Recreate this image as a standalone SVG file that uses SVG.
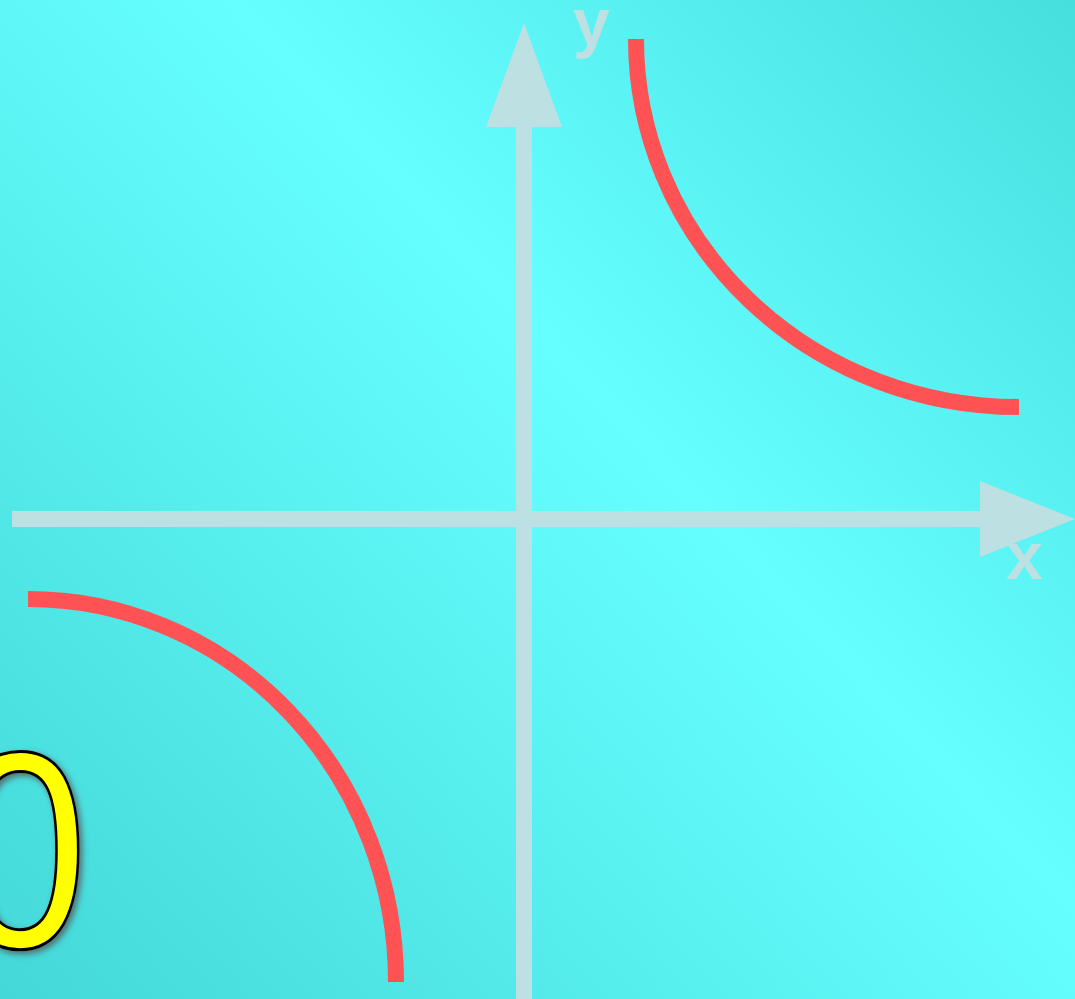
<svg xmlns="http://www.w3.org/2000/svg" width="1075" height="999" viewBox="0 0 1075 999">
  <defs>
    <linearGradient id="bg" gradientUnits="userSpaceOnUse" x1="1075" y1="0" x2="0" y2="999">
      <stop offset="0" stop-color="#47DEDE"/>
      <stop offset="0.42" stop-color="#66FFFF"/>
      <stop offset="1" stop-color="#44D8D8"/>
    </linearGradient>
    <filter id="shadow" x="-20%" y="-20%" width="150%" height="150%">
      <feDropShadow dx="3" dy="3" stdDeviation="3" flood-color="#555555" flood-opacity="0.8"/>
    </filter>
    <style>
      .axis { stroke: #BDE0E2; stroke-width: 16; fill: none; }
      .head { fill: #BDE0E2; }
      .lbl { fill: #BDE0E2; font-family: "Liberation Sans", Arial, sans-serif; font-weight: bold; font-size: 66px; }
      .curve { stroke: #FF5254; stroke-width: 16; fill: none; stroke-linecap: butt; }
      .big { fill: #FFFF00; stroke: #000000; stroke-width: 3; font-family: "Liberation Sans", Arial, sans-serif; font-size: 280px; }
    </style>
  </defs>
  <rect id="background" x="0" y="0" width="1075" height="999" fill="url(#bg)"/>
  <g id="connectors">
    <line id="x-axis" class="axis" x1="12" y1="519" x2="982" y2="519"/>
    <polygon id="x-head" class="head" points="980,481 1075,519 980,557"/>
    <line id="y-axis" class="axis" x1="524" y1="999" x2="524" y2="125"/>
    <polygon id="y-head" class="head" points="486,127 524,23 562,127"/>
  </g>
  <g id="label-x"><text class="lbl" x="1006" y="579">x</text></g>
  <g id="label-y"><text class="lbl" x="573" y="45">y</text></g>
  <g id="branch-upper"><path class="curve" d="M636,39 A383,368 0 0 0 1019,407"/></g>
  <g id="branch-lower"><path class="curve" d="M28,599 A368,383 0 0 1 396,982"/></g>
  <g id="zero-label" filter="url(#shadow)">
    <text class="big" text-anchor="middle" transform="translate(20,947) scale(0.87,1)">0</text>
  </g>
</svg>
